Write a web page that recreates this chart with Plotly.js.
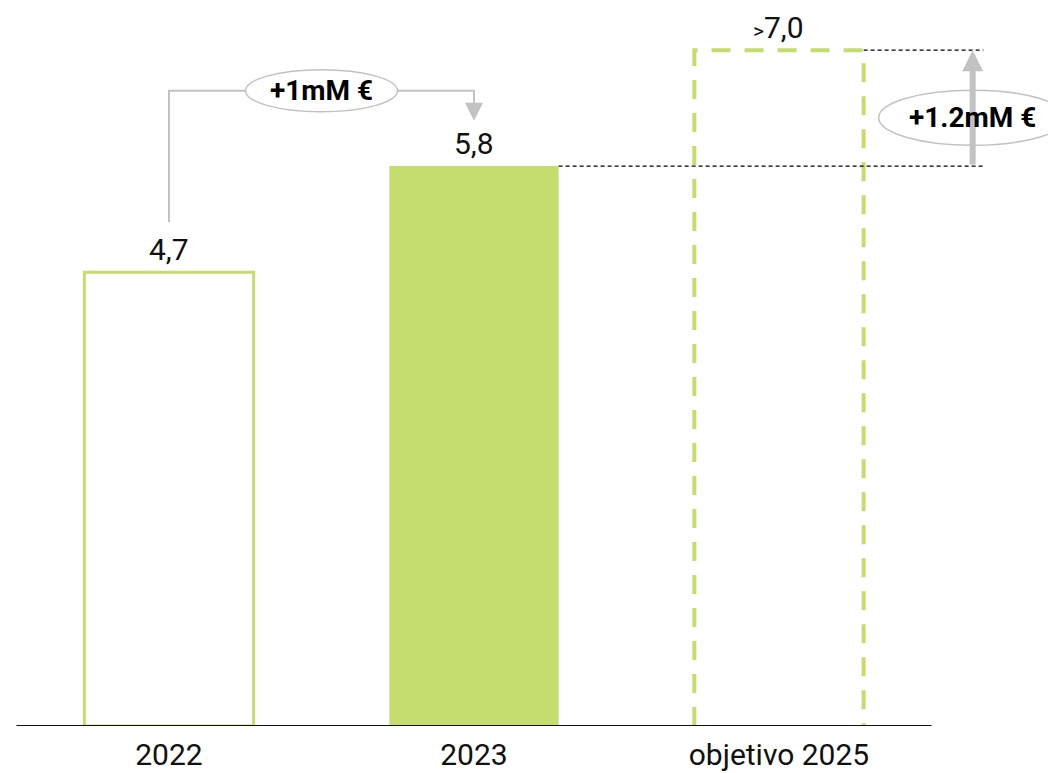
<!DOCTYPE html>
<html>
<head>
<meta charset="utf-8">
<script src="https://cdn.plot.ly/plotly-3.0.1.min.js"></script>
<style>html,body{margin:0;padding:0;background:#fff;}#chart{width:1048px;height:773px;}</style>
</head>
<body>
<div id="chart"></div>
<script>
// ---- data ----
const categories = ['2022', '2023', 'objetivo 2025'];
const values = [4.7, 5.8, 7.0];
const valueLabels = ['4,7', '5,8', '<span style="font-size:21px">&gt;</span>7,0'];
const deltaLabels = ['+1mM €', '+1.2mM €'];

// ---- styles ----
const LIME = '#c5dc6e';
const GREY = '#c2c2c2';
const FONT = 'Roboto, "Open Sans", sans-serif';
const BW = 0.555;          // bar width (category units)
const xPos = categories.map((c, i) => i);
const xSide = 2.635;       // x of the right-hand arrow
const xDotEnd = 2.67;

const traces = [];

// bars (2022 outline, 2023 filled, target invisible body)
traces.push({
  type: 'bar', x: xPos, y: values, width: BW,
  marker: {
    color: ['#ffffff', LIME, 'rgba(0,0,0,0)'],
    line: { color: [LIME, LIME, 'rgba(0,0,0,0)'], width: [3, 0, 0] }
  },
  hoverinfo: 'skip', showlegend: false
});

// dashed outline of target bar
const t = 2;
traces.push({
  type: 'scatter', mode: 'lines',
  x: [xPos[t] - BW / 2, xPos[t] - BW / 2, xPos[t] + BW / 2, xPos[t] + BW / 2],
  y: [0, values[t], values[t], 0],
  line: { color: LIME, width: 4, dash: '19px,14px' },
  hoverinfo: 'skip', showlegend: false, cliponaxis: false
});

// dotted reference lines
[1, 2].forEach(i => {
  traces.push({
    type: 'scatter', mode: 'lines',
    x: [xPos[i] + BW / 2, xDotEnd], y: [values[i], values[i]],
    line: { color: '#000000', width: 1.2, dash: '4px,3px' },
    hoverinfo: 'skip', showlegend: false
  });
});

// connector from 2022 to 2023
const topLevel = values[1] + 0.78;
traces.push({
  type: 'scatter', mode: 'lines',
  x: [xPos[0], xPos[0], xPos[1], xPos[1]],
  y: [values[0] + 0.52, topLevel, topLevel, values[1] + 0.55],
  line: { color: GREY, width: 2 },
  hoverinfo: 'skip', showlegend: false
});

const annotations = [];
// value labels
values.forEach((v, i) => {
  annotations.push({
    x: xPos[i], y: v, xref: 'x', yref: 'y', text: valueLabels[i],
    showarrow: false, yanchor: 'bottom', yshift: 3,
    font: { family: FONT, size: 30, color: '#111' }
  });
});
// arrowhead on connector
annotations.push({
  x: xPos[1], y: values[1] + 0.47, ax: xPos[1], ay: values[1] + 0.6,
  xref: 'x', yref: 'y', axref: 'x', ayref: 'y', text: '',
  showarrow: true, arrowhead: 2, arrowsize: 1.8, arrowwidth: 2, arrowcolor: GREY, standoff: 0
});
// right vertical arrow
annotations.push({
  x: xSide, y: values[2], ax: xSide, ay: values[1],
  xref: 'x', yref: 'y', axref: 'x', ayref: 'y', text: '',
  showarrow: true, arrowhead: 2, arrowsize: 0.7, arrowwidth: 6, arrowcolor: GREY, standoff: 0
});
// delta labels
annotations.push({
  x: (xPos[0] + xPos[1]) / 2, y: topLevel, xref: 'x', yref: 'y', text: '<b>' + deltaLabels[0] + '</b>',
  showarrow: false, font: { family: FONT, size: 28, color: '#000' }
});
annotations.push({
  x: xSide, y: (values[1] + values[2]) / 2 - 0.1, xref: 'x', yref: 'y', text: '<b>' + deltaLabels[1] + '</b>',
  showarrow: false, font: { family: FONT, size: 28, color: '#000' }
});

const shapes = [
  // baseline
  { type: 'line', xref: 'x', yref: 'y', x0: -0.5, x1: 2.5, y0: 0, y1: 0,
    line: { color: '#111', width: 2 }, layer: 'above' },
  // ellipses behind delta labels
  { type: 'circle', xref: 'x', yref: 'y',
    x0: (xPos[0] + xPos[1]) / 2 - 0.249, x1: (xPos[0] + xPos[1]) / 2 + 0.249,
    y0: topLevel - 0.218, y1: topLevel + 0.218,
    fillcolor: '#ffffff', line: { color: GREY, width: 1.5 }, layer: 'above' },
  { type: 'circle', xref: 'x', yref: 'y',
    x0: xSide - 0.308, x1: xSide + 0.308,
    y0: (values[1] + values[2]) / 2 - 0.1 - 0.285, y1: (values[1] + values[2]) / 2 - 0.1 + 0.285,
    fillcolor: '#ffffff', line: { color: GREY, width: 1.5 }, layer: 'above' }
];

const layout = {
  width: 1048, height: 773,
  margin: { l: 0, r: 0, t: 0, b: 47, pad: 0 },
  paper_bgcolor: '#ffffff', plot_bgcolor: '#ffffff',
  showlegend: false,
  xaxis: {
    range: [-0.554, 2.882], tickvals: xPos, ticktext: categories,
    showgrid: false, zeroline: false, showline: false, ticks: '',
    ticklabelstandoff: 8,
    tickfont: { family: FONT, size: 30, color: '#111' }, fixedrange: true
  },
  yaxis: { range: [0, 7.52], visible: false, showgrid: false, zeroline: false, fixedrange: true },
  annotations: annotations,
  shapes: shapes
};

Plotly.newPlot('chart', traces, layout, { displayModeBar: false, staticPlot: true });
</script>
</body>
</html>
